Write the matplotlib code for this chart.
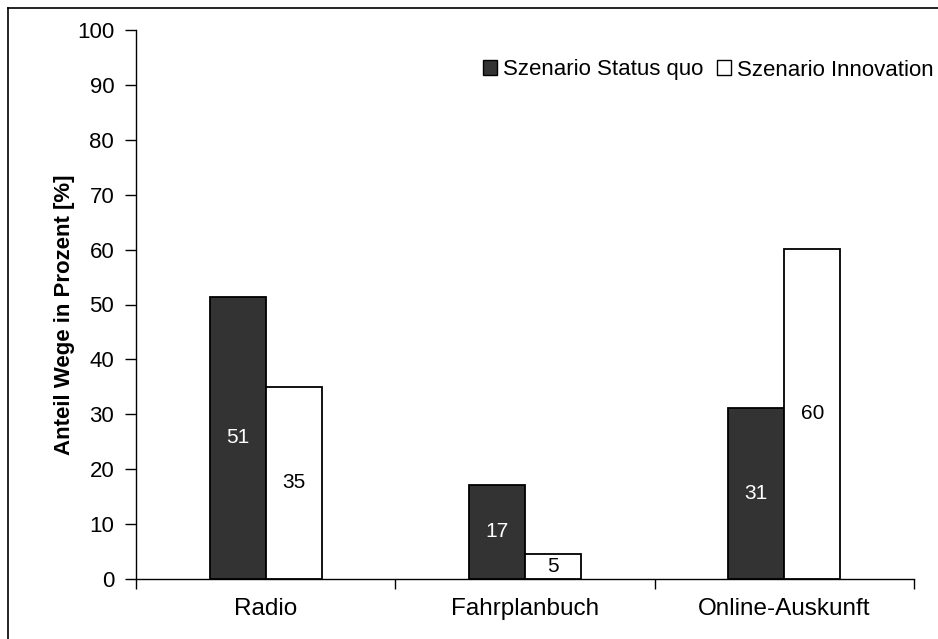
import matplotlib
matplotlib.use("Agg")
import matplotlib.pyplot as plt
from matplotlib.lines import Line2D
from matplotlib.patches import Patch
import numpy as np

categories = ["Radio", "Fahrplanbuch", "Online-Auskunft"]
series_names = ["Szenario Status quo", "Szenario Innovation"]
status_quo = [51.4, 17.2, 31.1]
innovation = [35.0, 4.6, 60.2]
y_ticks = [0, 10, 20, 30, 40, 50, 60, 70, 80, 90, 100]
y_label = "Anteil Wege in Prozent [%]"

plt.rcParams["font.family"] = ["Liberation Sans", "DejaVu Sans"]

W, H = 938, 639
fig = plt.figure(figsize=(W / 100, H / 100), dpi=100)
ax = fig.add_axes([136 / W, 1 - 579 / H, (914 - 136) / W, (579 - 30) / H])

x = np.arange(1, len(categories) + 1)
bw = 0.216
dark = "#333333"

b1 = ax.bar(x - bw / 2, status_quo, bw, color=dark, edgecolor="black", linewidth=1.3, zorder=3)
b2 = ax.bar(x + bw / 2, innovation, bw, color="white", edgecolor="black", linewidth=1.3, zorder=3)

for rect, v in zip(b1, status_quo):
    ax.text(rect.get_x() + rect.get_width() / 2, v / 2, f"{v:.0f}", ha="center", va="center",
            color="white", fontsize=15, zorder=4)
for rect, v in zip(b2, innovation):
    ax.text(rect.get_x() + rect.get_width() / 2, v / 2, f"{v:.0f}", ha="center", va="center",
            color="black", fontsize=15, zorder=4)

ax.set_xlim(0.5, len(categories) + 0.5)
ax.set_ylim(0, 100)
ax.set_yticks(y_ticks)
ax.tick_params(axis="y", direction="out", length=8, width=1, labelsize=16, pad=7.7)

# category boundaries carry the tick marks, labels sit on minor ticks at the centres
ax.set_xticks(np.arange(0.5, len(categories) + 1, 1.0))
ax.set_xticklabels([])
ax.tick_params(axis="x", which="major", direction="out", length=7, width=1)
ax.set_xticks(x, minor=True)
ax.set_xticklabels(categories, minor=True)
ax.tick_params(axis="x", which="minor", length=0, labelsize=17.5, pad=14)

for s in ["top", "right"]:
    ax.spines[s].set_visible(False)
for s in ["left", "bottom"]:
    ax.spines[s].set_linewidth(1)
    ax.spines[s].set_color("black")

ax.set_ylabel(y_label, fontsize=16, fontweight="bold")
ax.yaxis.set_label_coords(-0.078, 0.481)

handles = [Patch(facecolor=dark, edgecolor="black", linewidth=1.0),
           Patch(facecolor="white", edgecolor="black", linewidth=1.0)]
fig.legend(handles, series_names, loc="center right", bbox_to_anchor=(934 / W, 1 - 70 / H),
           ncol=2, frameon=False, fontsize=16, handlelength=0.63, handleheight=0.63,
           handletextpad=0.27, columnspacing=0.63, borderpad=0, borderaxespad=0)

# chart area frame (top and left edges)
fig.add_artist(Line2D([7.5 / W, 7.5 / W], [0, 1 - 7.5 / H], transform=fig.transFigure,
                      color="black", linewidth=1.2))
fig.add_artist(Line2D([7.5 / W, 1], [1 - 7.5 / H, 1 - 7.5 / H], transform=fig.transFigure,
                      color="black", linewidth=1.2))

fig.savefig("out.png", dpi=100, facecolor="white")
